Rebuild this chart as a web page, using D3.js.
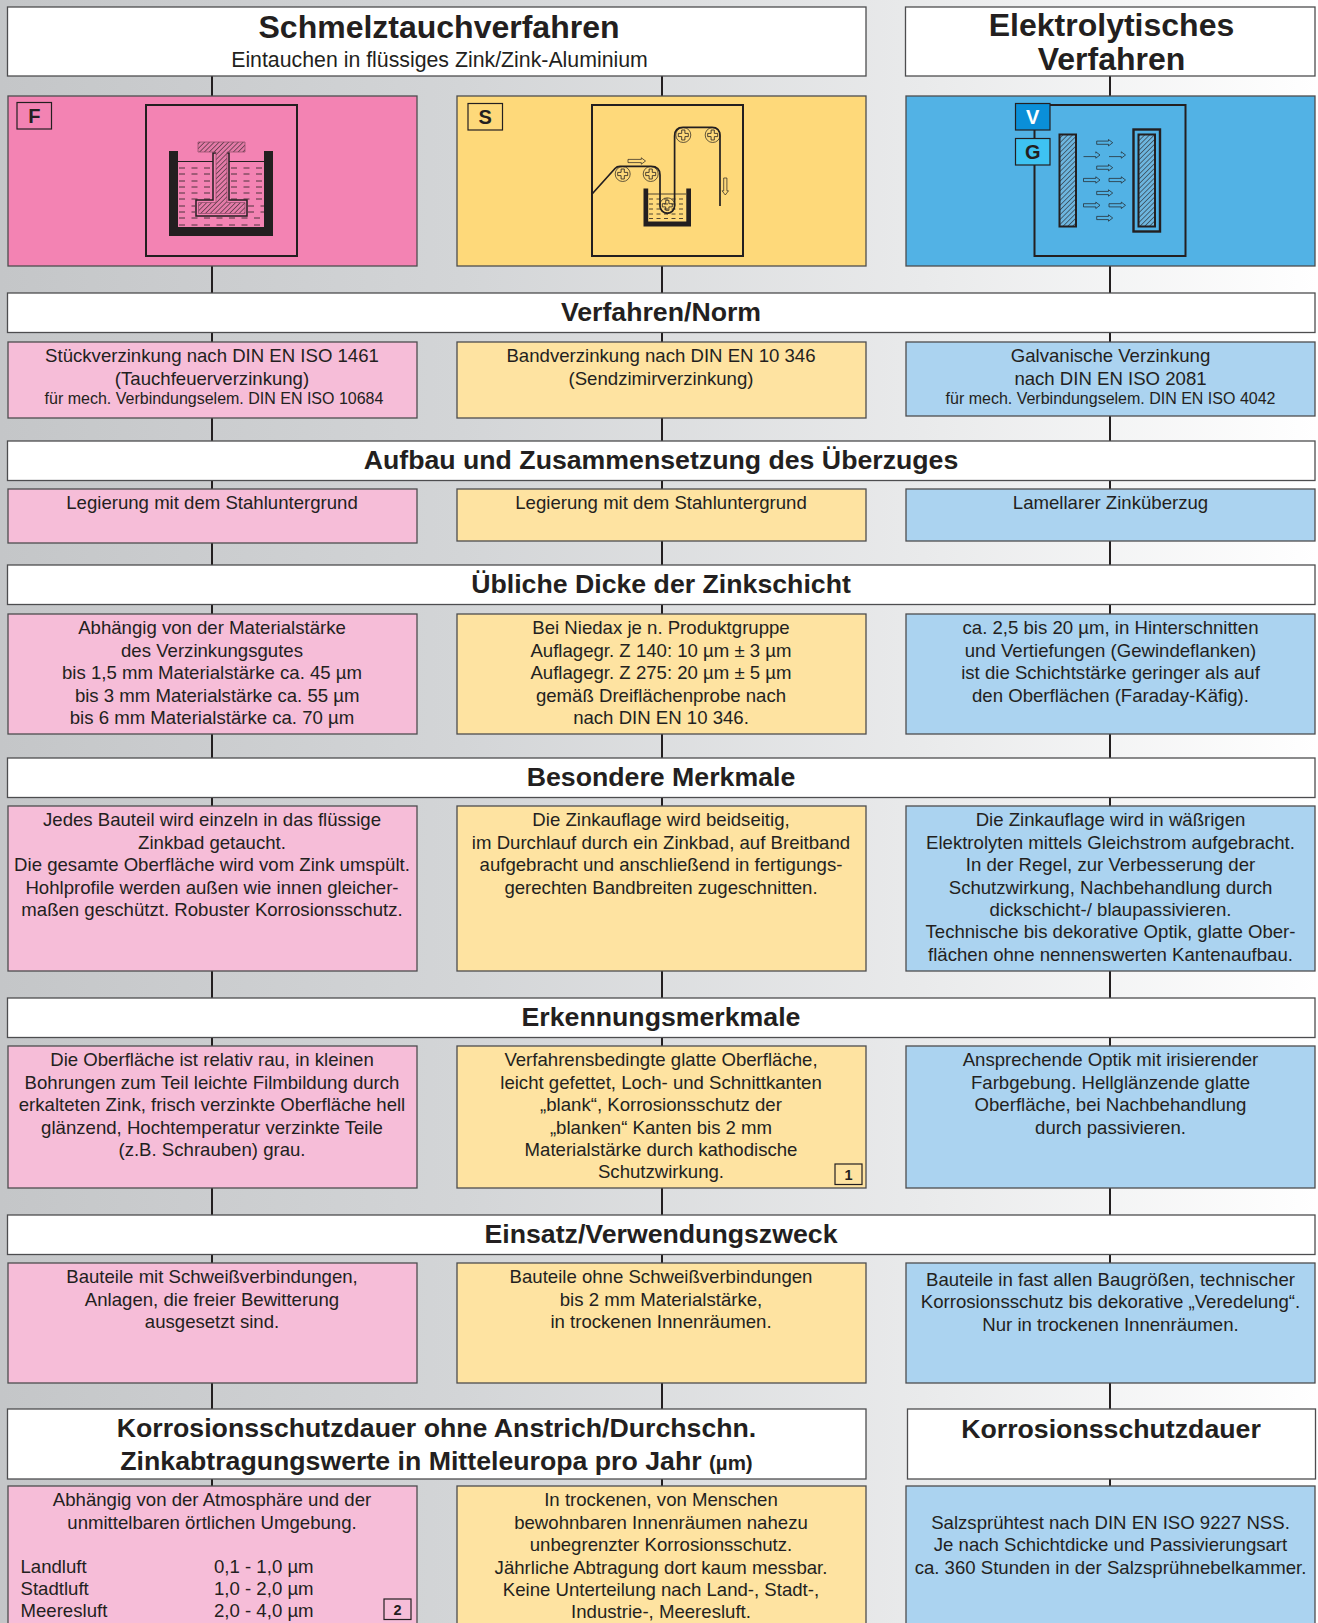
<!DOCTYPE html>
<html lang="de">
<head>
<meta charset="utf-8">
<title>Verzinkungsverfahren</title>
<script src="https://cdn.jsdelivr.net/npm/d3@7"></script>
<style>
  html, body { margin: 0; padding: 0; background: #fff; }
  svg { display: block; }
  text { font-family: "Liberation Sans", Arial, sans-serif; fill: #231f20; }
</style>
</head>
<body>
<svg id="chart" width="1318" height="1623"></svg>
<script>
// texts
const processColumns = ['F', 'S', 'E'];

const rowHeadings = [
  'Verfahren/Norm',
  'Aufbau und Zusammensetzung des Überzuges',
  'Übliche Dicke der Zinkschicht',
  'Besondere Merkmale',
  'Erkennungsmerkmale',
  'Einsatz/Verwendungszweck'
];

const stueckTexts = [
  ['Stückverzinkung nach DIN EN ISO 1461', '(Tauchfeuerverzinkung)', 'für mech. Verbindungselem. DIN EN ISO 10684'],
  ['Legierung mit dem Stahluntergrund'],
  ['Abhängig von der Materialstärke', 'des Verzinkungsgutes', 'bis 1,5 mm Materialstärke ca. 45 µm', '\u00a0\u00a0bis 3 mm Materialstärke ca. 55 µm', 'bis 6 mm Materialstärke ca. 70 µm'],
  ['Jedes Bauteil wird einzeln in das flüssige', 'Zinkbad getaucht.', 'Die gesamte Oberfläche wird vom Zink umspült.', 'Hohlprofile werden außen wie innen gleicher-', 'maßen geschützt. Robuster Korrosionsschutz.'],
  ['Die Oberfläche ist relativ rau, in kleinen', 'Bohrungen zum Teil leichte Filmbildung durch', 'erkalteten Zink, frisch verzinkte Oberfläche hell', 'glänzend, Hochtemperatur verzinkte Teile', '(z.B. Schrauben) grau.'],
  ['Bauteile mit Schweißverbindungen,', 'Anlagen, die freier Bewitterung', 'ausgesetzt sind.'],
  ['Abhängig von der Atmosphäre und der', 'unmittelbaren örtlichen Umgebung.']
];

const bandTexts = [
  ['Bandverzinkung nach DIN EN 10 346', '(Sendzimirverzinkung)'],
  ['Legierung mit dem Stahluntergrund'],
  ['Bei Niedax je n. Produktgruppe', 'Auflagegr. Z 140: 10 µm ± 3 µm', 'Auflagegr. Z 275: 20 µm ± 5 µm', 'gemäß Dreiflächenprobe nach', 'nach DIN EN 10 346.'],
  ['Die Zinkauflage wird beidseitig,', 'im Durchlauf durch ein Zinkbad, auf Breitband', 'aufgebracht und anschließend in fertigungs-', 'gerechten Bandbreiten zugeschnitten.'],
  ['Verfahrensbedingte glatte Oberfläche,', 'leicht gefettet, Loch- und Schnittkanten', '„blank“, Korrosionsschutz der', '„blanken“ Kanten bis 2 mm', 'Materialstärke durch kathodische', 'Schutzwirkung.'],
  ['Bauteile ohne Schweißverbindungen', 'bis 2 mm Materialstärke,', 'in trockenen Innenräumen.'],
  ['In trockenen, von Menschen', 'bewohnbaren Innenräumen nahezu', 'unbegrenzter Korrosionsschutz.', 'Jährliche Abtragung dort kaum messbar.', 'Keine Unterteilung nach Land-, Stadt-,', 'Industrie-, Meeresluft.']
];

const galvanTexts = [
  ['Galvanische Verzinkung', 'nach DIN EN ISO 2081', 'für mech. Verbindungselem. DIN EN ISO 4042'],
  ['Lamellarer Zinküberzug'],
  ['ca. 2,5 bis 20 µm, in Hinterschnitten', 'und Vertiefungen (Gewindeflanken)', 'ist die Schichtstärke geringer als auf', 'den Oberflächen (Faraday-Käfig).'],
  ['Die Zinkauflage wird in wäßrigen', 'Elektrolyten mittels Gleichstrom aufgebracht.', 'In der Regel, zur Verbesserung der', 'Schutzwirkung, Nachbehandlung durch', 'dickschicht-/ blaupassivieren.', 'Technische bis dekorative Optik, glatte Ober-', 'flächen ohne nennenswerten Kantenaufbau.'],
  ['Ansprechende Optik mit irisierender', 'Farbgebung. Hellglänzende glatte', 'Oberfläche, bei Nachbehandlung', 'durch passivieren.'],
  ['Bauteile in fast allen Baugrößen, technischer', 'Korrosionsschutz bis dekorative „Veredelung“.', 'Nur in trockenen Innenräumen.'],
  ['', 'Salzsprühtest nach DIN EN ISO 9227 NSS.', 'Je nach Schichtdicke und Passivierungsart', 'ca. 360 Stunden in der Salzsprühnebelkammer.']
];

const atmosphereNames = ['Landluft', 'Stadtluft', 'Meeresluft'];
const atmosphereRates = ['0,1 - 1,0 µm', '1,0 - 2,0 µm', '2,0 - 4,0 µm'];

// layout, kept apart from the texts
const colLeft = d3.scaleOrdinal(processColumns, [8, 457, 906]);
const colWidth = 409;
const colAxis = d3.scaleOrdinal(processColumns, [212, 662, 1110]);
const colText = d3.scaleOrdinal(processColumns, [212, 661, 1110.5]);
const headingTop = [293, 441, 565, 758, 998, 1215];
const boxTop = [342, 489, 614, 806, 1046, 1263, 1486];
const boxBottom = {
  F: [418, 543, 734, 971, 1188, 1383, 1640],
  S: [418, 541, 734, 971, 1188, 1383, 1640],
  E: [416, 541, 734, 971, 1188, 1383, 1640]
};
const heroFill = d3.scaleOrdinal(processColumns, ['#f383b3', '#fed97a', '#52b2e5']);
const paleFill = d3.scaleOrdinal(processColumns, ['#f6bdd8', '#fee3a1', '#abd3f0']);
const columnTexts = { F: stueckTexts, S: bandTexts, E: galvanTexts };

const bodySize = 18.6;
const headSize = 26.7;
const lineStep = 22.4;
const ink = '#231f20';
const edge = '#4d4d4f';

const svg = d3.select('#chart');
const defs = svg.append('defs');

const bg = defs.append('linearGradient').attr('id', 'bg');
bg.append('stop').attr('offset', '0%').attr('stop-color', '#c4c6c8');
bg.append('stop').attr('offset', '35%').attr('stop-color', '#d3d5d7');
bg.append('stop').attr('offset', '70%').attr('stop-color', '#e9eaeb');
bg.append('stop').attr('offset', '100%').attr('stop-color', '#ffffff');

function hatch(id, color) {
  let p = defs.append('pattern')
    .attr('id', id)
    .attr('width', 3.4)
    .attr('height', 3.4)
    .attr('patternUnits', 'userSpaceOnUse')
    .attr('patternTransform', 'rotate(45)');
  p.append('rect').attr('width', 3.4).attr('height', 3.4).attr('fill', color);
  p.append('line').attr('x1', 0).attr('y1', 0).attr('x2', 0).attr('y2', 3.4)
    .attr('stroke', ink).attr('stroke-width', 1.1);
}
hatch('hatchPink', '#e47ba8');
hatch('hatchBlue', '#6db6df');

svg.append('rect').attr('width', 1318).attr('height', 1623).attr('fill', 'url(#bg)');

// connectors run behind every box
svg.selectAll('.connector')
  .data(processColumns)
  .join('line')
  .attr('class', 'connector')
  .attr('x1', (d) => colAxis(d))
  .attr('x2', (d) => colAxis(d))
  .attr('y1', 70)
  .attr('y2', 1490)
  .attr('stroke', ink)
  .attr('stroke-width', 2);

function box(x, y, w, h, fill, stroke = edge, sw = 1.3) {
  return svg.append('rect')
    .attr('x', x).attr('y', y).attr('width', w).attr('height', h)
    .attr('fill', fill).attr('stroke', stroke).attr('stroke-width', sw);
}

function label(x, y, txt, size, bold = false, anchor = 'middle') {
  return svg.append('text')
    .attr('x', x).attr('y', y)
    .attr('text-anchor', anchor)
    .attr('font-size', size)
    .attr('font-weight', bold ? 700 : 400)
    .text(txt);
}

// top titles
box(7.5, 7, 858.5, 69, '#fff');
box(905.5, 7, 409.5, 69, '#fff');
label(439, 38, 'Schmelztauchverfahren', 32, true);
label(439.5, 67, 'Eintauchen in flüssiges Zink/Zink-Aluminium', 21.3);
label(1111.5, 35.5, 'Elektrolytisches', 32, true);
label(1111.5, 69.5, 'Verfahren', 32, true);

// hero panels
processColumns.forEach((c) => {
  box(colLeft(c), 96, colWidth, 170, heroFill(c));
});

// row headings and their boxes
rowHeadings.forEach((h, i) => {
  box(7.5, headingTop[i], 1307.5, 39.5, '#fff');
  label(661, headingTop[i] + 27.6, h, headSize, true);
});

processColumns.forEach((c) => {
  columnTexts[c].forEach((lines, row) => {
    box(colLeft(c), boxTop[row], colWidth, boxBottom[c][row] - boxTop[row], paleFill(c));
    lines.forEach((line, i) => {
      // third line of the standards row is set smaller and closer
      let small = row === 0 && i === 2;
      // the usage row of the last column sits a little lower
      let shift = (row === 5 && c === 'E') ? 2.4 : 0;
      let nudge = small && c === 'F' ? 2 : 0;
      label(colText(c) + nudge, boxTop[row] + 20.4 + shift + i * lineStep - (small ? 3 : 0), line, small ? 16 : bodySize);
    });
  });
});

// bottom headings
box(7.5, 1409, 858.5, 70, '#fff');
box(907.5, 1409, 408, 70, '#fff');
label(436.5, 1437, 'Korrosionsschutzdauer ohne Anstrich/Durchschn.', headSize, true);
let abtrag = label(436.5, 1470, 'Zinkabtragungswerte in Mitteleuropa pro Jahr ', headSize, true);
abtrag.append('tspan').attr('font-size', 20.5).text('(µm)');
label(1111, 1437.5, 'Korrosionsschutzdauer', headSize, true);

atmosphereNames.forEach((n, i) => {
  label(20.5, 1572.5 + i * lineStep, n, bodySize, false, 'start');
  label(214, 1572.5 + i * lineStep, atmosphereRates[i], bodySize, false, 'start');
});

function numberBox(x, y, txt) {
  let fill = txt === '1' ? '#fee3a1' : '#f6bdd8';
  box(x, y, 27, 20.5, fill, ink, 1.2);
  label(x + 13.5, y + 16, txt, 14.5, true);
}
numberBox(835, 1164, '1');
numberBox(384, 1599, '2');

function letterBox(x, y, txt, fill, color = ink) {
  box(x, y, 34.5, 26.5, fill, ink, 1.2);
  label(x + 17.25, y + 20, txt, 20, true).style('fill', color);
}

// --- icons ---
const icon = svg.append('g').attr('fill', 'none').attr('stroke', ink);

function frame(x, y) {
  icon.append('rect').attr('x', x).attr('y', y).attr('width', 151).attr('height', 151)
    .attr('stroke-width', 2);
}

function dashes(x1, x2, y, dash = '6 6.5') {
  icon.append('line').attr('x1', x1).attr('x2', x2).attr('y1', y).attr('y2', y)
    .attr('stroke-width', 0.8).attr('stroke-dasharray', dash);
}

function tank(x0, x1, y0, y1, wall, floor) {
  let p = d3.path();
  p.moveTo(x0, y0); p.lineTo(x0 + wall, y0); p.lineTo(x0 + wall, y1 - floor);
  p.lineTo(x1 - wall, y1 - floor); p.lineTo(x1 - wall, y0); p.lineTo(x1, y0);
  p.lineTo(x1, y1); p.lineTo(x0, y1); p.closePath();
  icon.append('path').attr('d', p.toString()).attr('fill', ink).attr('stroke', 'none');
}

// F: I-beam in the zinc bath
frame(146, 105);
tank(169, 273, 151, 236, 9, 9);
icon.append('path').attr('d', 'M178 161.5H213M229 161.5H265').attr('stroke-width', 1);
[168, 174, 181, 187, 193, 199].forEach((y) => {
  dashes(179, 212, y);
  dashes(231, 265, y);
});
[206, 212].forEach((y) => {
  dashes(179, 195, y);
  dashes(248, 265, y);
});
[218, 225].forEach((y) => dashes(179, 265, y));
icon.append('path')
  .attr('d', 'M213 153V200H196V216H247V200H229V153Z')
  .attr('fill', '#f383b3').attr('stroke-width', 1.5);
icon.append('path')
  .attr('d', 'M198 142H245V152H227V202.5H245V213.5H198.5V202.5H216V152H198Z')
  .attr('fill', 'url(#hatchPink)').attr('stroke', '#8a4a66').attr('stroke-width', 0.7);

// S: strip through the bath
frame(592, 105);
tank(643.5, 691, 188.5, 226.5, 4.7, 5);
icon.append('line').attr('x1', 648).attr('x2', 686).attr('y1', 194).attr('y2', 194).attr('stroke-width', 0.8);
[199, 204, 209, 214, 218.5].forEach((y) => dashes(649, 685, y, '4 3.5'));

[[622.7, 174], [650.7, 174], [667.3, 205.3], [683.3, 135], [712.7, 135]].forEach(([cx, cy]) => {
  icon.append('circle').attr('cx', cx).attr('cy', cy).attr('r', 7.5).attr('stroke-width', 0.7);
  icon.append('path')
    .attr('d', `M${cx - 1.6} ${cy - 5}h3.2v3.4h3.4v3.2h-3.4v3.4h-3.2v-3.4h-3.4v-3.2h3.4Z`)
    .attr('stroke-width', 0.8);
});
let strip = d3.path();
strip.moveTo(592.5, 193.5);
strip.lineTo(615, 168.5);
strip.quadraticCurveTo(617, 166.3, 620, 166.3);
strip.lineTo(651, 166.3);
strip.quadraticCurveTo(660, 166.3, 660, 175);
strip.lineTo(660, 206);
strip.arc(667.3, 206, 7.3, Math.PI, 0, true);
strip.lineTo(674.6, 136);
strip.quadraticCurveTo(674.6, 127.3, 683, 127.3);
strip.lineTo(712, 127.3);
strip.quadraticCurveTo(720, 127.3, 720, 136);
strip.lineTo(720, 206);
icon.append('path').attr('d', strip.toString()).attr('stroke-width', 1.7);

function arrow(x, y, len, dir = 'right', w = 1.6, thin = false) {
  let head = 4.2;
  let d = thin
    ? `M0 ${w}H${len - head}V${w + 1.6}L${len} 0L${len - head} ${-w - 1.6}V${-w}`
    : `M0 ${-w}H${len - head}V${-w - 1.6}L${len} 0L${len - head} ${w + 1.6}V${w}H0Z`;
  icon.append('path')
    .attr('d', d)
    .attr('transform', `translate(${x},${y}) rotate(${dir === 'down' ? 90 : 0})`)
    .attr('stroke-width', 0.7);
}
arrow(628, 161, 17.5);
arrow(725.3, 178, 17, 'down');

// E: anode and cathode
frame(1034.5, 105);
icon.append('rect').attr('x', 1059.5).attr('y', 134.5).attr('width', 16.5).attr('height', 92)
  .attr('fill', 'url(#hatchBlue)').attr('stroke-width', 2);
icon.append('rect').attr('x', 1133.5).attr('y', 129.5).attr('width', 26.5).attr('height', 102)
  .attr('stroke-width', 2.4);
icon.append('rect').attr('x', 1138.5).attr('y', 134.5).attr('width', 16.5).attr('height', 92)
  .attr('fill', 'url(#hatchBlue)').attr('stroke-width', 2);
[[1096.7, 142.7], [1096.7, 167.7], [1096.7, 193], [1096.7, 218]].forEach(([x, y]) => arrow(x, y, 16));
[[1083.5, 180], [1109, 180], [1083.5, 205.3], [1109, 205.3]].forEach(([x, y]) => arrow(x, y, 16.5));
[[1083.5, 155], [1109, 155]].forEach(([x, y]) => arrow(x, y, 16.5, 'right', 1.6, true));

letterBox(17, 102.5, 'F', '#f383b3');
letterBox(468, 103.5, 'S', '#fed97a');
letterBox(1015.5, 103.5, 'V', '#0a8fd8', '#fff');
letterBox(1015.5, 138.5, 'G', '#3ec3f2');
</script>
</body>
</html>
